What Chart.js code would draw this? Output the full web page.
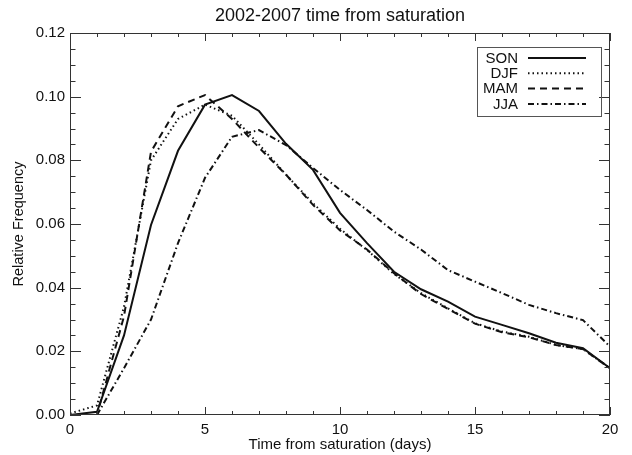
<!DOCTYPE html>
<html>
<head>
<meta charset="utf-8">
<script src="https://cdn.jsdelivr.net/npm/chart.js@4.4.1/dist/chart.umd.min.js"></script>
<style>
  html, body { margin: 0; padding: 0; background: #fff; }
  canvas { display: block; }
</style>
</head>
<body>
<canvas id="chart" width="632" height="455"></canvas>
<script>
// days after saturation
const days = [0, 1, 2, 3, 4, 5, 6, 7, 8, 9, 10, 11, 12, 13, 14, 15, 16, 17, 18, 19, 20];

// relative frequency per season
const son = [0.000, 0.001, 0.025, 0.0597, 0.0830, 0.0975, 0.1005, 0.0955, 0.0852, 0.0770, 0.0635,
             0.0540, 0.0450, 0.0395, 0.0356, 0.0309, 0.0283, 0.0257, 0.0227, 0.0210, 0.0147];
const djf = [0.0005, 0.003, 0.034, 0.0800, 0.0930, 0.0975, 0.0940, 0.0850, 0.0755, 0.0665, 0.0585,
             0.0518, 0.0443, 0.0383, 0.0335, 0.0288, 0.0262, 0.0246, 0.0220, 0.0207, 0.0147];
const mam = [0.000, 0.000, 0.031, 0.0827, 0.0970, 0.1005, 0.0930, 0.0840, 0.0755, 0.0660, 0.0580,
             0.0520, 0.0445, 0.0380, 0.0333, 0.0287, 0.0260, 0.0244, 0.0220, 0.0207, 0.0147];
const jja = [0.000, 0.000, 0.0147, 0.0300, 0.0540, 0.0745, 0.0874, 0.0895, 0.0848, 0.0776, 0.0707,
             0.0644, 0.0576, 0.0520, 0.0455, 0.0419, 0.0383, 0.0346, 0.0320, 0.0298, 0.0215];

const seasonNames = ['SON', 'DJF', 'MAM', 'JJA'];

const xMax = 20, xMajor = 5, xMinor = 1;
const yMax = 0.12, yMajor = 0.02, yMinor = 0.005;

const FONT = '"Liberation Sans", Arial, Helvetica, sans-serif';
const INK = '#111';

const toPoints = vals => vals.map((v, i) => ({ x: days[i], y: v }));

const styles = [
  { borderDash: [], borderWidth: 2 },
  { borderDash: [1.5, 3], borderWidth: 2 },
  { borderDash: [7, 5], borderWidth: 2 },
  { borderDash: [6, 3, 1.5, 3], borderWidth: 2 }
];

// IDL-like frame: box all round, inward ticks on every side
const frameTicks = {
  id: 'frameTicks',
  afterDatasetsDraw(chart) {
    const { ctx, chartArea: a, scales: { x, y } } = chart;
    ctx.save();
    ctx.strokeStyle = '#333';
    ctx.lineWidth = 1;
    ctx.strokeRect(a.left + 0.5, a.top + 0.5, a.right - a.left - 1, a.bottom - a.top - 1);
    ctx.beginPath();
    for (let d = 0; d <= xMax + 1e-9; d += xMinor) {
      const px = Math.round(x.getPixelForValue(d)) + 0.5;
      const len = Math.abs(d % xMajor) < 1e-9 ? 8 : 4;
      ctx.moveTo(px, a.bottom); ctx.lineTo(px, a.bottom - len);
      ctx.moveTo(px, a.top); ctx.lineTo(px, a.top + len);
    }
    const n = Math.round(yMax / yMinor);
    for (let i = 0; i <= n; i++) {
      const py = Math.round(y.getPixelForValue(i * yMinor)) + 0.5;
      const len = i % Math.round(yMajor / yMinor) === 0 ? 11 : 5.5;
      ctx.moveTo(a.left, py); ctx.lineTo(a.left + len, py);
      ctx.moveTo(a.right, py); ctx.lineTo(a.right - len, py);
    }
    ctx.stroke();
    ctx.restore();
  }
};

// legend box in the top right corner: label, then line sample
const boxLegend = {
  id: 'boxLegend',
  afterDraw(chart) {
    const { ctx, chartArea: a } = chart;
    const bx = a.right - 133, by = a.top + 14, bw = 124, bh = 69;
    ctx.save();
    ctx.strokeStyle = '#555';
    ctx.lineWidth = 1;
    ctx.strokeRect(bx + 0.5, by + 0.5, bw, bh);
    ctx.font = '15px ' + FONT;
    ctx.fillStyle = INK;
    ctx.textAlign = 'right';
    ctx.textBaseline = 'middle';
    chart.data.datasets.forEach((ds, i) => {
      const ry = by + 11 + i * 15.3;
      ctx.fillText(ds.label, bx + 41, ry + 0.5);
      ctx.beginPath();
      ctx.setLineDash(ds.borderDash);
      ctx.lineWidth = ds.borderWidth;
      ctx.strokeStyle = INK;
      ctx.moveTo(bx + 51, ry);
      ctx.lineTo(bx + 109, ry);
      ctx.stroke();
    });
    ctx.restore();
  }
};

const series = [son, djf, mam, jja];

new Chart(document.getElementById('chart'), {
  type: 'line',
  data: {
    datasets: series.map((vals, i) => ({
      label: seasonNames[i],
      data: toPoints(vals),
      borderColor: INK,
      borderWidth: styles[i].borderWidth,
      borderDash: styles[i].borderDash,
      pointRadius: 0,
      tension: 0,
      fill: false
    }))
  },
  options: {
    responsive: false,
    animation: false,
    layout: { padding: { left: 0, right: 22, top: 0, bottom: 0 } },
    plugins: {
      legend: { display: false },
      tooltip: { enabled: false },
      title: {
        display: true,
        fullSize: false,
        text: '2002-2007 time from saturation',
        color: INK,
        font: { family: FONT, size: 18, weight: 'normal' },
        padding: { top: 5, bottom: 6.4 }
      }
    },
    scales: {
      x: {
        type: 'linear',
        min: 0,
        max: xMax,
        grid: { display: false, drawTicks: false },
        border: { display: false },
        ticks: { stepSize: xMajor, color: INK, padding: 6, font: { family: FONT, size: 15 }, maxRotation: 0 },
        title: {
          display: true,
          text: 'Time from saturation (days)',
          color: INK,
          font: { family: FONT, size: 15 },
          padding: { top: 0, bottom: 1 }
        },
        afterFit: s => { s.height = 40; }
      },
      y: {
        min: 0,
        max: yMax,
        grid: { display: false, drawTicks: false },
        border: { display: false },
        ticks: {
          stepSize: yMajor,
          color: INK,
          padding: 5,
          font: { family: FONT, size: 15 },
          callback: v => v.toFixed(2)
        },
        title: {
          display: true,
          text: 'Relative Frequency',
          color: INK,
          font: { family: FONT, size: 14.5 },
          padding: { top: 10, bottom: 0 }
        },
        afterFit: s => { s.width = 70; }
      }
    }
  },
  plugins: [frameTicks, boxLegend]
});
</script>
</body>
</html>
